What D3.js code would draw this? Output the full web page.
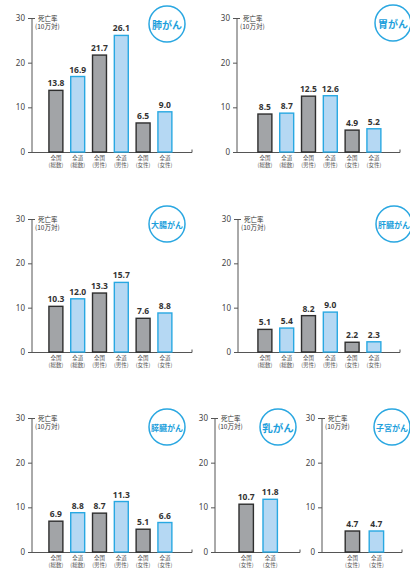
<!DOCTYPE html>
<html lang="ja">
<head>
<meta charset="utf-8">
<script src="https://cdn.jsdelivr.net/npm/d3@7"></script>
<style>
  html, body { margin: 0; padding: 0; background: #fff; }
  svg { display: block; }
  text { font-family: "Noto Sans CJK JP", "Noto Sans", sans-serif; }
</style>
</head>
<body>
<svg id="chart" width="410" height="568"></svg>
<script>
// 死亡率（人口10万対）: 全国と全道の比較
const categoriesAll = [
  ["全国", "(総数)"], ["全道", "(総数)"],
  ["全国", "(男性)"], ["全道", "(男性)"],
  ["全国", "(女性)"], ["全道", "(女性)"]
];
const categoriesFemale = [["全国", "(女性)"], ["全道", "(女性)"]];
const regionKind = ["nation", "hokkaido", "nation", "hokkaido", "nation", "hokkaido"];

const lungValues     = [13.8, 16.9, 21.7, 26.1, 6.5, 9.0];
const stomachValues  = [8.5, 8.7, 12.5, 12.6, 4.9, 5.2];
const colonValues    = [10.3, 12.0, 13.3, 15.7, 7.6, 8.8];
const liverValues    = [5.1, 5.4, 8.2, 9.0, 2.2, 2.3];
const pancreasValues = [6.9, 8.8, 8.7, 11.3, 5.1, 6.6];
const breastValues   = [10.7, 11.8];
const uterusValues   = [4.7, 4.7];

const yTicks = [0, 10, 20, 30];
const yMax = 30;

// panel layout: axis position, bar band range, badge position
const panels = [
  { title: "肺がん",   values: lungValues,     cats: categoriesAll,    kinds: regionKind,
    ax: 32,  y0: 152, y1: 18,  band: [45, 175.8],   xEnd: 192, badge: [167, 24], fs: 10 },
  { title: "胃がん",   values: stomachValues,  cats: categoriesAll,    kinds: regionKind,
    ax: 237, y0: 152, y1: 18,  band: [254, 384.8],  xEnd: 400, badge: [393, 23], fs: 10 },
  { title: "大腸がん", values: colonValues,    cats: categoriesAll,    kinds: regionKind,
    ax: 32,  y0: 352, y1: 219, band: [45, 175.8],   xEnd: 192, badge: [167, 224], fs: 8 },
  { title: "肝臓がん", values: liverValues,    cats: categoriesAll,    kinds: regionKind,
    ax: 238, y0: 352, y1: 219, band: [254, 384.8],  xEnd: 400, badge: [394, 224], fs: 8 },
  { title: "膵臓がん", values: pancreasValues, cats: categoriesAll,    kinds: regionKind,
    ax: 32,  y0: 552, y1: 418, band: [45, 175.8],   xEnd: 192, badge: [167, 427], fs: 8 },
  { title: "乳がん",   values: breastValues,   cats: categoriesFemale, kinds: ["nation", "hokkaido"],
    ax: 215, y0: 552, y1: 418, band: [234.2, 282.2], xEnd: 300, badge: [278, 427], fs: 10.5 },
  { title: "子宮がん", values: uterusValues,   cats: categoriesFemale, kinds: ["nation", "hokkaido"],
    ax: 322, y0: 552, y1: 418, band: [340.4, 388.4], xEnd: 402, badge: [392, 427], fs: 8 }
];

const fills   = { nation: "#a2a4a7", hokkaido: "#b5d8f3" };
const strokes = { nation: "#2e2e2e", hokkaido: "#28a8e2" };
const blue = "#1e9fdc";

const svg = d3.select("#chart");

panels.forEach(p => {
  const g = svg.append("g");
  const y = d3.scaleLinear().domain([0, yMax]).range([p.y0, p.y1]);
  const x = d3.scaleBand()
    .domain(d3.range(p.values.length))
    .range(p.band)
    .paddingInner(p.values.length === 6 ? 0.36 : 0.4)
    .paddingOuter(p.values.length === 6 ? 0.18 : 0.2);

  // y axis
  const yAxis = d3.axisLeft(y).tickValues(yTicks).tickSize(4).tickPadding(3).tickFormat(d3.format("d"));
  const ya = g.append("g").attr("transform", `translate(${p.ax},0)`).call(yAxis);
  ya.select(".domain").attr("stroke", "#555").attr("stroke-width", 1).attr("d", `M0,${p.y0}V${p.y1}`);
  ya.selectAll(".tick line").attr("stroke", "#555");
  ya.selectAll(".tick text").attr("fill", "#444").style("font-size", "8px")
    .style("font-family", "'Noto Sans', sans-serif");
  // small cap at the top of the axis
  ya.append("line").attr("x1", 0).attr("x2", 3).attr("y1", p.y1 + 0.5).attr("y2", p.y1 + 0.5)
    .attr("stroke", "#555");

  // x baseline with end tick
  g.append("path")
    .attr("d", `M${p.ax},${p.y0 + 0.5}H${p.xEnd}V${p.y0 - 2.5}`)
    .attr("fill", "none").attr("stroke", "#555").attr("stroke-width", 1);

  // unit label
  g.append("text").attr("x", p.ax + 6).attr("y", p.y1 + 2.5)
    .attr("fill", "#333").style("font-size", "6.5px").text("死亡率");
  g.append("text").attr("x", p.ax + 3).attr("y", p.y1 + 11)
    .attr("fill", "#333").style("font-size", "6.5px").text("(10万対)");

  // bars
  g.selectAll("rect.bar").data(p.values).join("rect")
    .attr("class", "bar")
    .attr("x", (d, i) => x(i))
    .attr("y", d => y(d))
    .attr("width", x.bandwidth())
    .attr("height", d => y(0) - y(d))
    .attr("fill", (d, i) => fills[p.kinds[i]])
    .attr("stroke", (d, i) => strokes[p.kinds[i]])
    .attr("stroke-width", 1.4);

  // value labels
  g.selectAll("text.val").data(p.values).join("text")
    .attr("class", "val")
    .attr("x", (d, i) => x(i) + x.bandwidth() / 2)
    .attr("y", d => y(d) - 4)
    .attr("text-anchor", "middle")
    .attr("fill", "#333")
    .style("font-size", "8.5px").style("font-weight", "bold")
    .style("font-family", "'Noto Sans', sans-serif")
    .text(d => d.toFixed(1));

  // category labels (two lines)
  const cat = g.selectAll("text.cat").data(p.cats).join("text")
    .attr("class", "cat")
    .attr("text-anchor", "middle")
    .attr("fill", "#555")
    .style("font-size", "5.5px");
  cat.append("tspan")
    .attr("x", (d, i) => x(i) + x.bandwidth() / 2)
    .attr("y", p.y0 + 8)
    .text(d => d[0]);
  cat.append("tspan")
    .attr("x", (d, i) => x(i) + x.bandwidth() / 2)
    .attr("y", p.y0 + 14.5)
    .text(d => d[1]);

  // title badge
  g.append("circle").attr("cx", p.badge[0]).attr("cy", p.badge[1]).attr("r", 18)
    .attr("fill", "#fff").attr("stroke", "#2aa7e1").attr("stroke-width", 1.5);
  g.append("text").attr("x", p.badge[0]).attr("y", p.badge[1])
    .attr("text-anchor", "middle").attr("dominant-baseline", "central")
    .attr("fill", blue).style("font-size", p.fs + "px").style("font-weight", "bold")
    .text(p.title);
});
</script>
</body>
</html>
